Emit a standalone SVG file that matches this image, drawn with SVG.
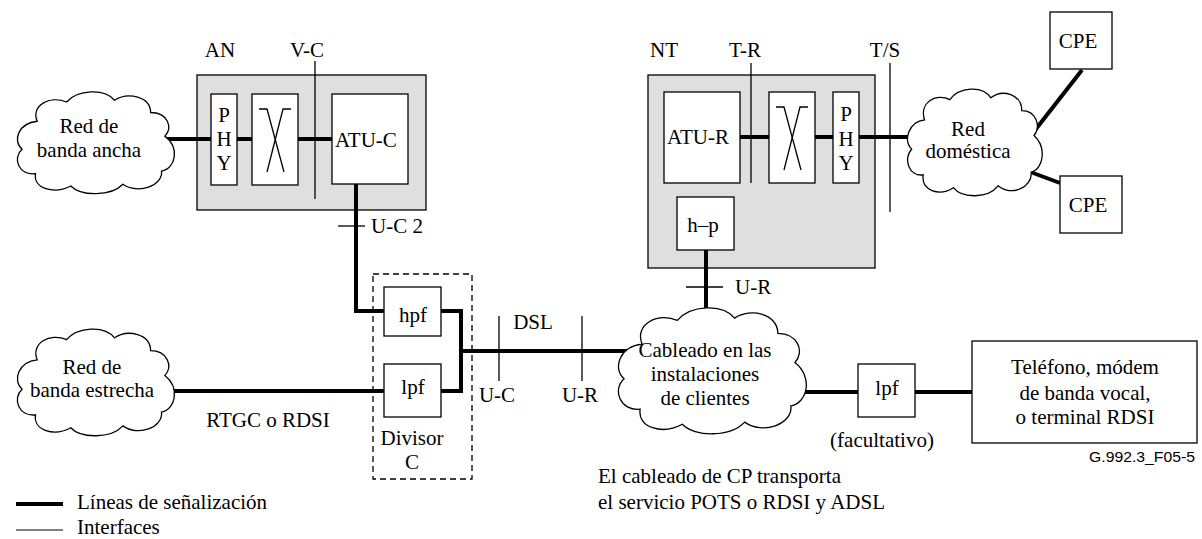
<svg xmlns="http://www.w3.org/2000/svg" xmlns:xlink="http://www.w3.org/1999/xlink" width="1202" height="539" viewBox="0 0 1202 539" font-family="'Liberation Serif', 'Times New Roman', 'DejaVu Serif', serif">
<style>
text{font-family:'Liberation Serif','Times New Roman','DejaVu Serif',serif;font-size:21px;fill:#000}
.c{text-anchor:middle}
.box{fill:#fff;stroke:#000;stroke-width:1.3}
.grey{fill:#dfdfdf;stroke:#000;stroke-width:1.3}
.thick{fill:none;stroke:#000;stroke-width:4}
.thin{fill:none;stroke:#000;stroke-width:1.3}
.cloud{fill:#fff;stroke:#000;stroke-width:1.3;vector-effect:non-scaling-stroke}
.dash{fill:none;stroke:#000;stroke-width:1.3;stroke-dasharray:6,4}
.sans{font-family:'Liberation Sans',Arial,sans-serif;font-size:14px;text-anchor:end}
</style>
<defs>
<path id="cloudshape" class="cloud" d="M 30,38 C 22,20 45,8 65,16 C 78,2 110,0 122,14 C 138,4 165,10 165,28 C 185,28 192,45 182,55 C 200,68 195,92 178,95 C 180,112 150,122 132,110 C 118,124 82,124 70,112 C 50,122 25,115 28,98 C 8,100 0,80 12,70 C 0,60 8,40 30,38 Z"/>
<g id="xsym" class="thin"><polyline points="7,15 15,15 32,78"/><polyline points="39,15 31,15 15,78"/></g>
</defs>

<!-- containers -->
<g id="AN"><rect class="grey" x="197" y="75" width="229" height="135"/><text x="220" y="57" class="c">AN</text></g>
<g id="NT"><rect class="grey" x="648" y="75" width="227" height="193"/><text x="664" y="57" class="c">NT</text></g>
<g id="divisor"><rect class="dash" x="373" y="274" width="99" height="205"/><text x="412" y="445" class="c">Divisor</text><text x="412" y="469" class="c">C</text></g>

<!-- connectors -->
<g id="connectors">
<line class="thick" x1="160" y1="139" x2="211" y2="139"/>
<line class="thick" x1="237" y1="139" x2="252" y2="139"/>
<line class="thick" x1="298" y1="139" x2="332" y2="139"/>
<polyline class="thick" points="356,184 356,311 384,311"/>
<polyline class="thick" points="441,311 461,311 461,391 441,391"/>
<line class="thick" x1="461" y1="351" x2="640" y2="351"/>
<line class="thick" x1="160" y1="391" x2="384" y2="391"/>
<line class="thick" x1="706" y1="250" x2="706" y2="320"/>
<line class="thick" x1="790" y1="392" x2="858" y2="392"/>
<line class="thick" x1="915" y1="392" x2="972" y2="392"/>
<line class="thick" x1="740" y1="137" x2="769" y2="137"/>
<line class="thick" x1="815" y1="137" x2="833" y2="137"/>
<line class="thick" x1="859" y1="137" x2="920" y2="137"/>
<line class="thick" x1="1025" y1="143" x2="1082" y2="70"/>
<line class="thick" x1="1025" y1="170" x2="1060" y2="183"/>
<!-- interfaces -->
<line class="thin" x1="315" y1="61" x2="315" y2="199"/>
<line class="thin" x1="751" y1="63" x2="751" y2="183"/>
<line class="thin" x1="890" y1="63" x2="890" y2="212"/>
<line class="thin" x1="338" y1="226" x2="365" y2="226"/>
<line class="thin" x1="686" y1="287" x2="723" y2="287"/>
<line class="thin" x1="499" y1="316" x2="499" y2="381"/>
<line class="thin" x1="582" y1="316" x2="582" y2="381"/>
</g>

<!-- interface labels -->
<g id="labels">
<text x="307" y="57" class="c">V-C</text>
<text x="745" y="57" class="c">T-R</text>
<text x="885" y="57" class="c">T/S</text>
<text x="371" y="233">U-C 2</text>
<text x="735" y="294">U-R</text>
<text x="533" y="329" class="c">DSL</text>
<text x="497" y="402" class="c">U-C</text>
<text x="580" y="402" class="c">U-R</text>
<text x="268" y="427" class="c">RTGC o RDSI</text>
<text x="882" y="447" class="c">(facultativo)</text>
<text x="598" y="483">El cableado de CP transporta</text>
<text x="598" y="509">el servicio POTS o RDSI y ADSL</text>
<text x="1195" y="462" class="sans" textLength="106" lengthAdjust="spacingAndGlyphs">G.992.3_F05-5</text>
</g>

<!-- AN internals -->
<g id="AN-PHY"><rect class="box" x="211" y="94" width="26" height="91"/><text x="224" y="122" class="c">P</text><text x="224" y="146" class="c">H</text><text x="224" y="170" class="c">Y</text></g>
<g id="AN-switch"><rect class="box" x="252" y="94" width="46" height="91"/><use xlink:href="#xsym" href="#xsym" transform="translate(252,94)"/></g>
<g id="ATU-C"><rect class="box" x="332" y="94" width="76" height="90"/><text x="335" y="147">ATU-C</text></g>

<!-- NT internals -->
<g id="ATU-R"><rect class="box" x="664" y="92" width="76" height="91"/><text x="698" y="144" class="c">ATU-R</text></g>
<g id="NT-switch"><rect class="box" x="769" y="92" width="46" height="91"/><use xlink:href="#xsym" href="#xsym" transform="translate(769,92)"/></g>
<g id="NT-PHY"><rect class="box" x="833" y="92" width="26" height="91"/><text x="846" y="121" class="c">P</text><text x="846" y="146" class="c">H</text><text x="846" y="170" class="c">Y</text></g>
<g id="h-p"><rect class="box" x="677" y="197" width="57" height="53"/><text x="703" y="232" class="c">h–p</text></g>

<!-- splitter filters -->
<g id="hpf"><rect class="box" x="384" y="287" width="57" height="49"/><text x="413" y="322" class="c">hpf</text></g>
<g id="lpf"><rect class="box" x="384" y="364" width="57" height="53"/><text x="413" y="394" class="c">lpf</text></g>
<g id="lpf2"><rect class="box" x="858" y="364" width="57" height="53"/><text x="887" y="395" class="c">lpf</text></g>

<!-- clouds -->
<g id="cloud-banda-ancha"><use xlink:href="#cloudshape" href="#cloudshape" transform="translate(12,88) scale(0.84,0.875)"/><text x="89" y="133" class="c">Red de</text><text x="89" y="157" class="c">banda ancha</text></g>
<g id="cloud-banda-estrecha"><use xlink:href="#cloudshape" href="#cloudshape" transform="translate(12,325) scale(0.84,0.917)"/><text x="92" y="374" class="c">Red de</text><text x="92" y="397" class="c">banda estrecha</text></g>
<g id="cloud-cableado"><use xlink:href="#cloudshape" href="#cloudshape" transform="translate(612,303) scale(1.005,1.083)"/><text x="705" y="357" class="c">Cableado en las</text><text x="705" y="381" class="c">instalaciones</text><text x="705" y="405" class="c">de clientes</text></g>
<g id="cloud-domestica"><use xlink:href="#cloudshape" href="#cloudshape" transform="translate(903,85) scale(0.72,0.917)"/><text x="968" y="136" class="c">Red</text><text x="968" y="158" class="c">doméstica</text></g>

<!-- terminals -->
<g id="CPE1"><rect class="box" x="1050" y="12" width="62" height="57"/><text x="1078" y="48" class="c">CPE</text></g>
<g id="CPE2"><rect class="box" x="1060" y="176" width="62" height="57"/><text x="1088" y="212" class="c">CPE</text></g>
<g id="telefono"><rect class="box" x="972" y="341" width="225" height="102"/><text x="1085" y="374" class="c">Teléfono, módem</text><text x="1085" y="400" class="c">de banda vocal,</text><text x="1085" y="424" class="c">o terminal RDSI</text></g>

<!-- legend -->
<g id="legend">
<line class="thick" x1="16" y1="504" x2="63" y2="504"/>
<text x="77" y="509">Líneas de señalización</text>
<line x1="16" y1="530" x2="63" y2="530" stroke="#555" stroke-width="1.3"/>
<text x="77" y="534">Interfaces</text>
</g>
</svg>
